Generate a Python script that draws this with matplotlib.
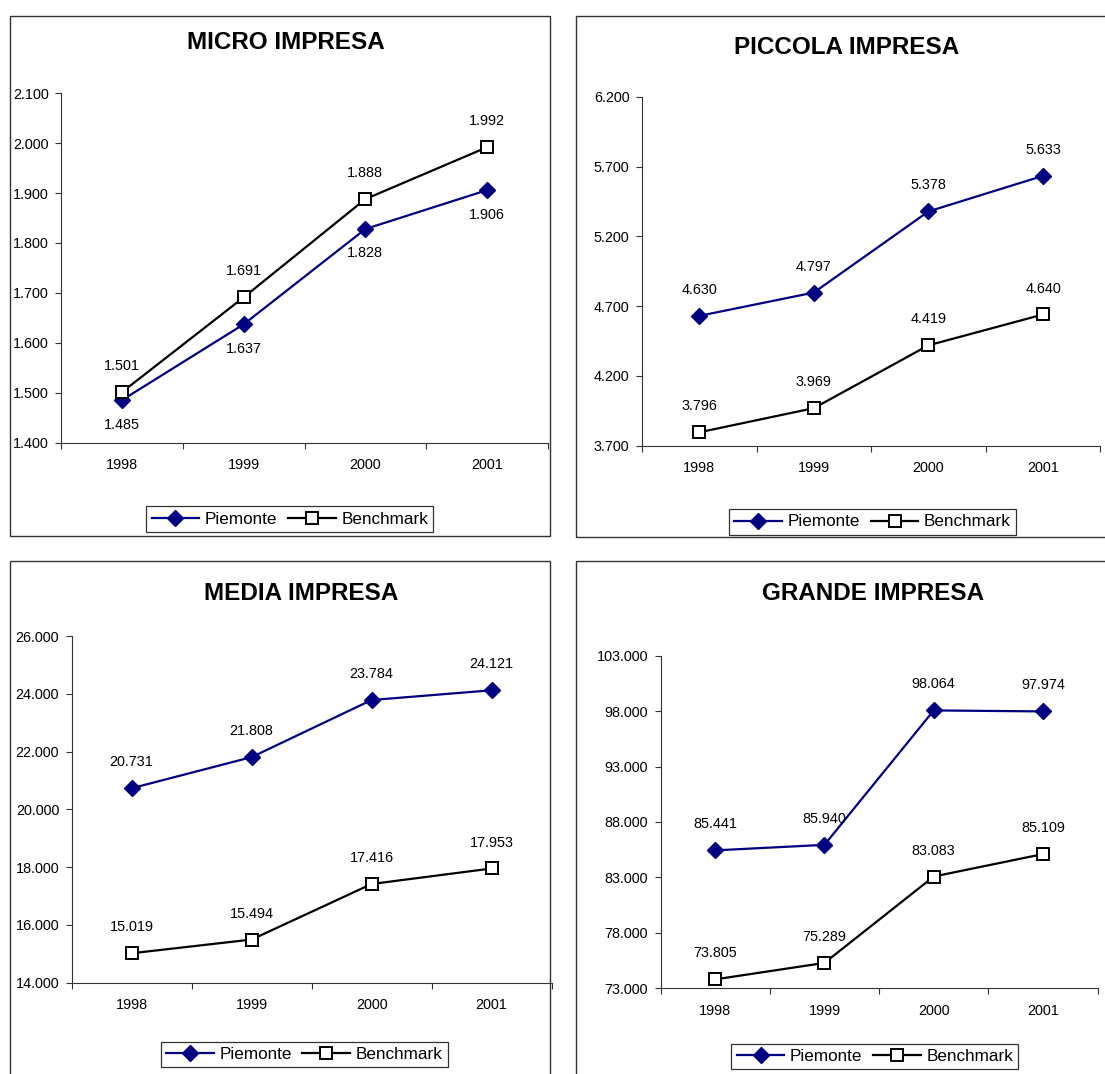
import matplotlib
matplotlib.use("Agg")
import matplotlib.pyplot as plt
from matplotlib.patches import Rectangle
from matplotlib.lines import Line2D
from matplotlib.ticker import FixedLocator, NullFormatter, FixedFormatter

plt.rcParams['font.family'] = ['Liberation Sans', 'DejaVu Sans']

years = ['1998', '1999', '2000', '2001']
series_names = ['Piemonte', 'Benchmark']

titles = ['MICRO IMPRESA', 'PICCOLA IMPRESA', 'MEDIA IMPRESA', 'GRANDE IMPRESA']

micro_piemonte = [1485, 1637, 1828, 1906]
micro_benchmark = [1501, 1691, 1888, 1992]
piccola_piemonte = [4630, 4797, 5378, 5633]
piccola_benchmark = [3796, 3969, 4419, 4640]
media_piemonte = [20731, 21808, 23784, 24121]
media_benchmark = [15019, 15494, 17416, 17953]
grande_piemonte = [85441, 85940, 98064, 97974]
grande_benchmark = [73805, 75289, 83083, 85109]

micro_ticks = [1400, 1500, 1600, 1700, 1800, 1900, 2000, 2100]
piccola_ticks = [3700, 4200, 4700, 5200, 5700, 6200]
media_ticks = [14000, 16000, 18000, 20000, 22000, 24000, 26000]
grande_ticks = [73000, 78000, 83000, 88000, 93000, 98000, 103000]

W, H = 1105, 1074
fig = plt.figure(figsize=(W / 100, H / 100), dpi=100)


def fx(x):
    return x / W


def fy(y):
    return 1 - y / H


def fmt(v):
    return f"{v:,}".replace(",", ".")


NAVY = '#000080'
D_MS = 7.8
S_MS = 8.8

panels = [
    dict(title=titles[0], p=micro_piemonte, b=micro_benchmark, ticks=micro_ticks,
         ax=(61, 548, 93.3, 442.6), frame=(10, 15.7, 549.7, 535.7),
         tpos=(286, 42.5), leg=(289.8, 519), pbelow=True),
    dict(title=titles[1], p=piccola_piemonte, b=piccola_benchmark, ticks=piccola_ticks,
         ax=(642, 1100.3, 96.7, 445.7), frame=(575.5, 15.7, 1115, 537),
         tpos=(847, 47), leg=(872.7, 522), pbelow=False),
    dict(title=titles[2], p=media_piemonte, b=media_benchmark, ticks=media_ticks,
         ax=(71.7, 551.5, 636, 982.7), frame=(10, 560.7, 550, 1085),
         tpos=(301, 593), leg=(304.3, 1054.8), pbelow=False),
    dict(title=titles[3], p=grande_piemonte, b=grande_benchmark, ticks=grande_ticks,
         ax=(660.5, 1097.7, 655.7, 988.3), frame=(575.5, 560.7, 1115, 1085),
         tpos=(873, 593.5), leg=(874.9, 1056.2), pbelow=False),
]

for pn in panels:
    x0, y0, x1, y1 = pn['frame']
    fig.patches.append(Rectangle((fx(x0), fy(y1)), fx(x1) - fx(x0), fy(y0) - fy(y1),
                                 transform=fig.transFigure, fill=False,
                                 edgecolor='#333333', linewidth=1.0, zorder=0))

    l, r, t, b = pn['ax']
    ax = fig.add_axes([fx(l), fy(b), fx(r) - fx(l), fy(t) - fy(b)])
    ax.patch.set_alpha(0)
    xs = [i + 0.5 for i in range(len(years))]
    ax.plot(xs, pn['p'], color=NAVY, lw=1.6, marker='D', ms=D_MS,
            mfc=NAVY, mec=NAVY, zorder=3, clip_on=False)
    ax.plot(xs, pn['b'], color='black', lw=1.6, marker='s', ms=S_MS,
            mfc='white', mec='black', mew=1.4, zorder=4, clip_on=False)
    ax.set_xlim(0, len(years))
    ax.set_ylim(pn['ticks'][0], pn['ticks'][-1])
    ax.set_yticks(pn['ticks'])
    ax.set_yticklabels([fmt(v) for v in pn['ticks']])
    ax.xaxis.set_major_locator(FixedLocator(range(len(years) + 1)))
    ax.xaxis.set_major_formatter(NullFormatter())
    ax.xaxis.set_minor_locator(FixedLocator(xs))
    ax.xaxis.set_minor_formatter(FixedFormatter(years))
    ax.tick_params(axis='x', which='minor', length=0, pad=11, labelsize=10.4)
    ax.tick_params(axis='x', which='major', length=4, width=0.8, color='#333333', direction='out')
    ax.tick_params(axis='y', length=4, width=0.8, color='#333333', direction='out',
                   pad=5, labelsize=10.4)
    for s in ['top', 'right']:
        ax.spines[s].set_visible(False)
    for s in ['left', 'bottom']:
        ax.spines[s].set_color('#333333')
        ax.spines[s].set_linewidth(0.8)

    for x, v in zip(xs, pn['p']):
        off = -17.6 if pn['pbelow'] else 18.7
        ax.annotate(fmt(v), (x, v), xytext=(0, off), textcoords='offset points',
                    ha='center', va='center', fontsize=10.4, zorder=5)
    for x, v in zip(xs, pn['b']):
        ax.annotate(fmt(v), (x, v), xytext=(0, 18.7), textcoords='offset points',
                    ha='center', va='center', fontsize=10.4, zorder=5)

    fig.text(fx(pn['tpos'][0]), fy(pn['tpos'][1]), pn['title'], ha='center', va='center',
             fontsize=17.5, fontweight='bold')

    handles = [
        Line2D([], [], color=NAVY, lw=1.6, marker='D', ms=D_MS, mfc=NAVY, mec=NAVY),
        Line2D([], [], color='black', lw=1.6, marker='s', ms=S_MS, mfc='white', mec='black', mew=1.4),
    ]
    leg = ax.legend(handles, series_names, loc='center', ncol=2,
                    bbox_to_anchor=(fx(pn['leg'][0]), fy(pn['leg'][1])),
                    bbox_transform=fig.transFigure, fontsize=12.3, frameon=True,
                    fancybox=False, edgecolor='black', handlelength=2.8,
                    handletextpad=0.33, columnspacing=0.6, borderpad=0.3,
                    borderaxespad=0, numpoints=1)
    leg.get_frame().set_linewidth(0.9)

fig.savefig('out.png', dpi=100)
